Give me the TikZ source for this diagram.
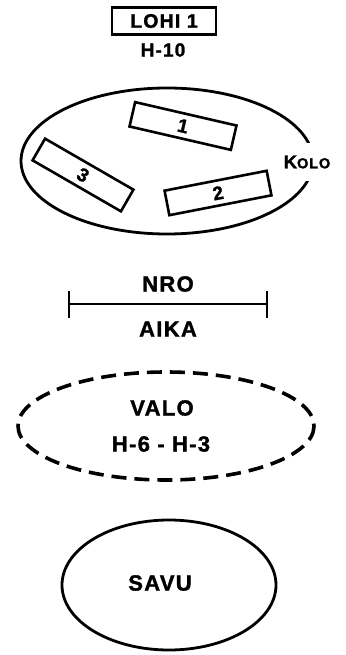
\documentclass[tikz,border=0pt]{standalone}
\usepackage{fontspec}
\setmainfont{Liberation Sans}
\newfontfamily\hv{Liberation Sans Bold}[LetterSpace=6, FakeBold=1.5]
\begin{document}
\begin{tikzpicture}[x=1pt,y=-1pt,
  lbl/.style={font=\hv\fontsize{22}{24}\selectfont, inner sep=0pt, align=center},
  slab/.style={draw, line width=2.6pt, minimum width=104pt, minimum height=25pt, inner sep=0pt, font=\hv\fontsize{19}{19}\selectfont},
  thick line/.style={line width=2.8pt}]
\useasboundingbox (0,0) rectangle (345,655);
% LOHI 1
\node[draw, line width=2.6pt, minimum width=104pt, minimum height=27pt, inner sep=0pt,
      font=\hv\fontsize{19.5}{19.5}\selectfont] (lohi) at (164,21) {LOHI 1};
\node[font=\hv\fontsize{19}{19}\selectfont, inner sep=0pt] (h10) at (163,50) {H-10};
% KOLO ellipse
\draw[thick line] (167,161) ellipse [x radius=146, y radius=73];
\node[fill=white, inner sep=1pt, minimum height=38pt] (kolo) at (307,162)
  {{\hv\fontsize{18.5}{18}\selectfont K}{\hv\fontsize{14.5}{14}\selectfont OLO}};
\node[slab, rotate=-13] (r1) at (183,126) {1};
\node[slab, rotate=11] (r2) at (218,193) {2};
\node[slab, rotate=-30, minimum width=102pt] (r3) at (83,175) {3};
% NRO / AIKA
\coordinate (la) at (69,304);
\coordinate (lb) at (267,304);
\draw[thick line] (la) -- (lb);
\draw[thick line] (69,291) -- (69,318);
\draw[thick line] (267,291) -- (267,318);
\node[lbl] (nro) at (168,284) {NRO};
\node[lbl] (aika) at (168,329) {AIKA};
% VALO dashed ellipse
\draw[line width=3.6pt, dash pattern=on 15pt off 8pt] (166,426) ellipse [x radius=148, y radius=54];
\node[lbl] (valo) at (162,408) {VALO};
\node[lbl] (hh) at (161,444) {H-6\,\,-\,\,H-3};
% SAVU
\draw[thick line] (169,585) ellipse [x radius=107, y radius=65];
\node[lbl] (savu) at (160,583) {SAVU};
\end{tikzpicture}
\end{document}
